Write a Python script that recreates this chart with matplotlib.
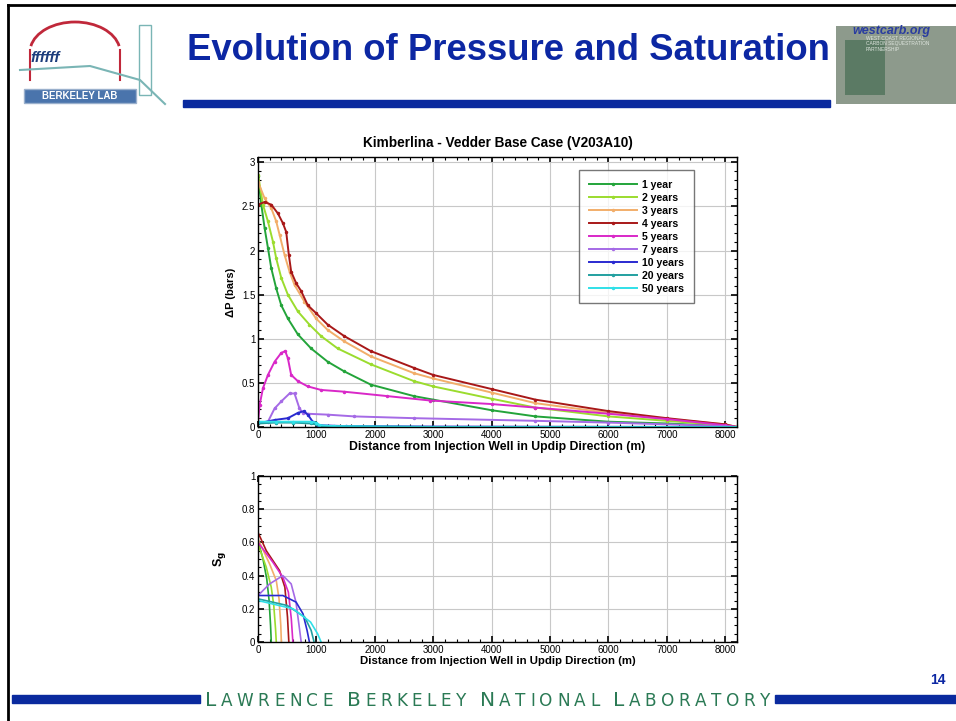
import matplotlib
matplotlib.use('Agg')
import matplotlib.pyplot as plt
from matplotlib.patches import Rectangle, Arc
from matplotlib.ticker import MultipleLocator
from matplotlib.font_manager import FontProperties

# ---- pressure change (bars) vs distance ----
LABELS = ['1 year', '2 years', '3 years', '4 years', '5 years', '7 years', '10 years', '20 years', '50 years']
COLORS = ['#23a43a', '#9bdc2e', '#f2ae6a', '#a81818', '#d928c8', '#a56ae6', '#2a2ad0', '#22a0a0', '#30e0e8']

dp_x_1 = [0, 57, 114, 170, 227, 312, 398, 511, 682, 909, 1193, 1477, 1932, 2670, 3000, 4000, 4750, 6000, 7000, 8000, 8200]
dp_y_1 = [2.85, 2.52, 2.25, 2.03, 1.80, 1.57, 1.38, 1.23, 1.05, 0.89, 0.74, 0.63, 0.48, 0.35, 0.31, 0.19, 0.12, 0.06, 0.04, 0.01, 0.0]
dp_x_2 = [0, 85, 170, 256, 312, 398, 511, 682, 881, 1080, 1364, 1932, 2670, 3000, 4000, 4750, 6000, 7000, 8000, 8200]
dp_y_2 = [2.86, 2.52, 2.33, 2.10, 1.91, 1.69, 1.50, 1.31, 1.16, 1.03, 0.89, 0.71, 0.52, 0.46, 0.32, 0.22, 0.12, 0.07, 0.02, 0.0]
dp_x_3 = [0, 114, 227, 312, 369, 455, 540, 625, 795, 994, 1193, 1477, 1932, 2670, 3000, 4000, 4750, 6000, 7000, 8000, 8200]
dp_y_3 = [2.78, 2.59, 2.48, 2.33, 2.18, 1.95, 1.76, 1.61, 1.42, 1.23, 1.10, 0.97, 0.80, 0.61, 0.55, 0.39, 0.27, 0.16, 0.09, 0.03, 0.0]
dp_x_4 = [0, 114, 227, 341, 426, 483, 528, 568, 653, 739, 852, 994, 1193, 1477, 1932, 2670, 3000, 4000, 4750, 6000, 7000, 8000, 8200]
dp_y_4 = [2.52, 2.55, 2.52, 2.42, 2.31, 2.21, 1.95, 1.76, 1.63, 1.54, 1.38, 1.29, 1.16, 1.03, 0.86, 0.67, 0.59, 0.43, 0.31, 0.18, 0.10, 0.03, 0.0]
dp_x_5 = [0, 28, 85, 170, 284, 398, 466, 511, 568, 682, 852, 1080, 1477, 2216, 2950, 4000, 4750, 6000, 7000, 8000, 8200]
dp_y_5 = [0.05, 0.25, 0.44, 0.59, 0.74, 0.84, 0.86, 0.78, 0.59, 0.52, 0.46, 0.42, 0.40, 0.35, 0.30, 0.26, 0.22, 0.15, 0.09, 0.02, 0.0]
dp_x_7 = [0, 170, 284, 398, 540, 625, 710, 767, 852, 1193, 1648, 2670, 4750, 6000, 8000, 8200]
dp_y_7 = [0.05, 0.06, 0.21, 0.29, 0.38, 0.38, 0.21, 0.16, 0.15, 0.14, 0.12, 0.10, 0.07, 0.05, 0.01, 0.0]
dp_x_10 = [0, 284, 511, 682, 784, 852, 937, 1023, 1500, 3000, 8200]
dp_y_10 = [0.04, 0.08, 0.10, 0.16, 0.18, 0.14, 0.06, 0.02, 0.01, 0.005, 0.0]
dp_x_20 = [0, 300, 600, 900, 1000, 1100, 1500, 3000, 8200]
dp_y_20 = [0.04, 0.05, 0.05, 0.04, 0.03, 0.01, 0.005, 0.0, 0.0]
dp_x_50 = [0, 300, 600, 900, 1000, 1050, 1300, 3000, 8200]
dp_y_50 = [0.06, 0.06, 0.06, 0.06, 0.05, 0.02, 0.01, 0.0, 0.0]

# ---- gas saturation vs distance ----
sg_x_1 = [0, 85, 150, 190, 215, 227]
sg_y_1 = [0.61, 0.50, 0.38, 0.25, 0.10, 0.0]
sg_x_2 = [0, 142, 227, 270, 300, 313]
sg_y_2 = [0.59, 0.45, 0.33, 0.22, 0.08, 0.0]
sg_x_3 = [0, 199, 313, 360, 390, 400]
sg_y_3 = [0.62, 0.47, 0.37, 0.26, 0.10, 0.0]
sg_x_4 = [0, 142, 369, 460, 505, 528]
sg_y_4 = [0.66, 0.55, 0.43, 0.33, 0.15, 0.0]
sg_x_5 = [0, 256, 426, 520, 570, 597]
sg_y_5 = [0.60, 0.48, 0.39, 0.30, 0.14, 0.0]
sg_x_7 = [0, 199, 426, 568, 650, 710, 739]
sg_y_7 = [0.28, 0.35, 0.40, 0.35, 0.24, 0.08, 0.0]
sg_x_10 = [0, 426, 653, 770, 840, 880]
sg_y_10 = [0.28, 0.28, 0.24, 0.17, 0.07, 0.0]
sg_x_20 = [0, 500, 800, 910, 960]
sg_y_20 = [0.26, 0.22, 0.15, 0.07, 0.0]
sg_x_50 = [0, 600, 900, 1020, 1080]
sg_y_50 = [0.25, 0.20, 0.12, 0.05, 0.0]

DP = [(dp_x_1, dp_y_1), (dp_x_2, dp_y_2), (dp_x_3, dp_y_3), (dp_x_4, dp_y_4), (dp_x_5, dp_y_5),
      (dp_x_7, dp_y_7), (dp_x_10, dp_y_10), (dp_x_20, dp_y_20), (dp_x_50, dp_y_50)]
SG = [(sg_x_1, sg_y_1), (sg_x_2, sg_y_2), (sg_x_3, sg_y_3), (sg_x_4, sg_y_4), (sg_x_5, sg_y_5),
      (sg_x_7, sg_y_7), (sg_x_10, sg_y_10), (sg_x_20, sg_y_20), (sg_x_50, sg_y_50)]

W, H = 956, 721
plt.rcParams['font.family'] = ['Liberation Sans', 'DejaVu Sans']
fig = plt.figure(figsize=(W / 100, H / 100), dpi=100)


def fx(px):
    return px / W


def fy(py):
    return 1 - py / H


def style_axes(ax, ymajor, yminor):
    ax.set_xlim(0, 8200)
    ax.xaxis.set_major_locator(MultipleLocator(1000))
    ax.xaxis.set_minor_locator(MultipleLocator(200))
    ax.yaxis.set_major_locator(MultipleLocator(ymajor))
    ax.yaxis.set_minor_locator(MultipleLocator(yminor))
    ax.tick_params(which='both', direction='in', top=True, right=True, labelsize=7, pad=2)
    ax.tick_params(which='major', length=4, width=1.2)
    ax.tick_params(which='minor', length=2, width=0.8)
    ax.grid(True, color='#c8c8c8', linewidth=0.8)
    ax.set_axisbelow(True)
    for s in ax.spines.values():
        s.set_linewidth(1.0)


# upper panel: pressure
ax1 = fig.add_axes([fx(258), fy(427), fx(737 - 258), (427 - 157) / H])
for (x, y), c, lab in zip(DP, COLORS, LABELS):
    ax1.plot(x, y, color=c, linewidth=1.4, marker='.', markersize=3, label=lab)
ax1.set_ylim(0, 3.06)
style_axes(ax1, 0.5, 0.1)
ax1.set_yticks([0, 0.5, 1, 1.5, 2, 2.5, 3])
ax1.set_yticklabels(['0', '0.5', '1', '1.5', '2', '2.5', '3'])
ax1.set_xlabel('Distance from Injection Well in Updip Direction (m)', fontsize=8.8, fontweight='bold', labelpad=1)
ax1.set_ylabel('ΔP (bars)', fontsize=8, fontweight='bold', labelpad=4)
ax1.set_title('Kimberlina - Vedder Base Case (V203A10)', fontsize=9.8, fontweight='bold', pad=7)
leg = ax1.legend(loc='upper right', bbox_to_anchor=(0.921, 0.970), numpoints=1,
                 handlelength=4.6, labelspacing=0.28, fancybox=False, borderpad=0.9, handletextpad=0.5,
                 prop={'weight': 'bold', 'size': 7.6})
leg.get_frame().set_edgecolor('#555555')
leg.get_frame().set_linewidth(1.0)

# lower panel: saturation
ax2 = fig.add_axes([fx(258), fy(642), fx(737 - 258), (642 - 476) / H])
for (x, y), c in zip(SG, COLORS):
    ax2.plot(x, y, color=c, linewidth=1.2)
ax2.set_ylim(0, 1)
style_axes(ax2, 0.2, 0.05)
ax2.set_yticks([0, 0.2, 0.4, 0.6, 0.8, 1])
ax2.set_yticklabels(['0', '0.2', '0.4', '0.6', '0.8', '1'])
ax2.set_xlabel('Distance from Injection Well in Updip Direction (m)', fontsize=8.2, fontweight='bold', labelpad=1)
ax2.set_ylabel('S$_\\mathbf{g}$', fontsize=9, fontweight='bold', labelpad=10)

# ---- slide decoration ----
fig.add_artist(plt.Line2D([fx(8), fx(8)], [0, fy(5)], color='black', linewidth=2))
fig.add_artist(plt.Line2D([fx(8), 1], [fy(5), fy(5)], color='black', linewidth=2))

fig.text(fx(187), fy(50), 'Evolution of Pressure and Saturation', fontsize=26.3, fontweight='bold',
         color='#0c27a3', va='center', ha='left')
fig.add_artist(Rectangle((fx(183), fy(107)), fx(830 - 183), 7 / H, color='#0a2a9e'))

# Berkeley Lab logo (simplified)
fig.add_artist(Arc((fx(75), fy(52)), fx(90), 60 / H, theta1=10, theta2=170, color='#c0283a', linewidth=2))
fig.add_artist(plt.Line2D([fx(30), fx(30)], [fy(80), fy(50)], color='#c0283a', linewidth=1.5))
fig.add_artist(plt.Line2D([fx(120), fx(120)], [fy(80), fy(50)], color='#c0283a', linewidth=1.5))
fig.text(fx(30), fy(58), 'ffffff', fontsize=11, fontstyle='italic', fontweight='bold', color='#1d3d7c', va='center')
fig.add_artist(Rectangle((fx(139), fy(95)), fx(12), 70 / H, facecolor='none', edgecolor='#7ab5b5', linewidth=1))
fig.add_artist(plt.Line2D([fx(20), fx(90), fx(140), fx(165)], [fy(70), fy(66), fy(80), fy(104)],
                          color='#7ab5b5', linewidth=1.5))
fig.add_artist(Rectangle((fx(24), fy(103)), fx(112), 14 / H, facecolor='#4a74ac', edgecolor='#9ab0cc'))
fig.text(fx(80), fy(96), 'BERKELEY LAB', fontsize=7, fontweight='bold', color='white', ha='center', va='center')

# westcarb logo (simplified)
fig.add_artist(Rectangle((fx(836), fy(104)), fx(120), 78 / H, facecolor='#8d9a8c', edgecolor='none'))
fig.add_artist(Rectangle((fx(845), fy(95)), fx(40), 55 / H, facecolor='#5b7a64', edgecolor='none'))
fig.text(fx(852), fy(31), 'westcarb.org', fontsize=9, fontweight='bold', fontstyle='italic', color='#2a3da0', va='center')
fig.text(fx(866), fy(44), 'WEST COAST REGIONAL\nCARBON SEQUESTRATION\nPARTNERSHIP', fontsize=3.5, color='#dfe6df',
         va='center', linespacing=1.2)

# footer
fig.add_artist(Rectangle((fx(12), fy(703)), fx(200 - 12), 8 / H, color='#0a2a9e'))
fig.add_artist(Rectangle((fx(775), fy(703)), fx(956 - 775), 8 / H, color='#0a2a9e'))
fig.text(fx(938), fy(680), '14', fontsize=10, fontweight='bold', color='#0c27a3', ha='center', va='center')

# small-caps footer with letter spacing, stretched to the bar gap
fig.canvas.draw()
rend = fig.canvas.get_renderer()
big = FontProperties(family='DejaVu Sans', size=14.5)
small = FontProperties(family='DejaVu Sans', size=12.2)
chars = []
for word in ['LAWRENCE', 'BERKELEY', 'NATIONAL', 'LABORATORY']:
    for i, ch in enumerate(word):
        chars.append((ch, big if i == 0 else small))
    chars.append((' ', small))
chars = chars[:-1]
widths = [rend.get_text_width_height_descent(ch if ch != ' ' else 'i', fp, ismath=False)[0] for ch, fp in chars]
track = (565 - sum(widths)) / (len(chars) - 1)
xpos = 205.0
for (ch, fp), w in zip(chars, widths):
    if ch != ' ':
        fig.text(fx(xpos), fy(706), ch, fontproperties=fp, color='#2b7a55', va='baseline', ha='left')
    xpos += w + track

fig.savefig('out.png', dpi=100)
